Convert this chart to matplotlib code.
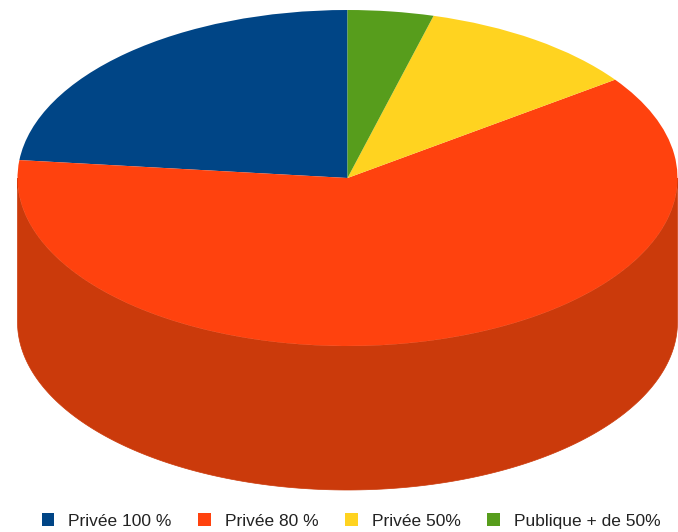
import numpy as np
import matplotlib
matplotlib.use("Agg")
import matplotlib.pyplot as plt

labels = ["Privée 100 %", "Privée 80 %", "Privée 50%", "Publique + de 50%"]
values = [23.3, 61.65, 10.85, 4.2]
colors = ["#004586", "#ff420e", "#ffd320", "#579d1c"]
side_colors = ["#00386b", "#cb3a0b", "#ccA919", "#467e16"]

plt.rcParams["font.family"] = ["Liberation Sans", "DejaVu Sans"]

# the axes covers the whole picture; y is stretched so a circle in data looks like the flat ellipse
W, H = 678, 532
squash = 168 / 330
cx = 347.5
cy = (H - 178) / squash
radius = 330
depth = 144 / squash

fig = plt.figure(figsize=(W / 100, H / 100), dpi=100)
ax = fig.add_axes([0, 0, 1, 1])

# side wall, only the front half of the pie shows
start = 90.0
for val, col in zip(values, side_colors):
    end = start + val * 3.6
    for shift in (0, 360):
        a0 = max(start, 180 + shift)
        a1 = min(end, 360 + shift)
        if a1 > a0:
            t = np.radians(np.linspace(a0, a1, 200))
            x = cx + radius * np.cos(t)
            y = cy + radius * np.sin(t)
            ax.fill(np.r_[x, x[::-1]], np.r_[y, y[::-1] - depth], color=col, lw=0.5)
    start = end

wedges, _ = ax.pie(values, colors=colors, startangle=90, counterclock=True,
                   radius=radius, center=(cx, cy), frame=True)
ax.set_aspect("auto")
ax.set_xlim(0, W)
ax.set_ylim(0, H / squash)
ax.axis("off")

leg = ax.legend(wedges, labels, loc="center", bbox_to_anchor=(351 / W, 1 - 521 / H),
                ncol=4, frameon=False, fontsize=12.5, handlelength=0.72, handleheight=0.72,
                handletextpad=0.8, columnspacing=1.55, borderpad=0, labelcolor="#222222")

fig.savefig("out.png", dpi=100, facecolor="white")
